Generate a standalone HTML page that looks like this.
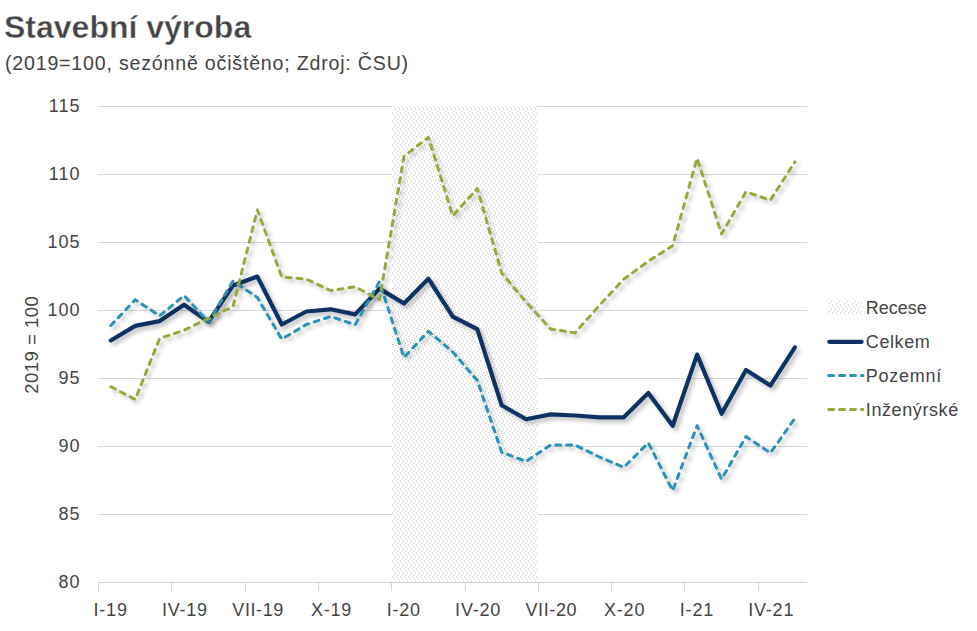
<!DOCTYPE html>
<html><head><meta charset="utf-8"><title>Stavební výroba</title>
<style>
html,body{margin:0;padding:0;background:#fff;}
body{width:977px;height:631px;overflow:hidden;font-family:"Liberation Sans",sans-serif;}
svg{display:block;}
text{font-family:"Liberation Sans",sans-serif;fill:#444444;}
</style></head><body>
<svg width="977" height="631" viewBox="0 0 977 631">
<defs>
<pattern id="dots" x="392" y="106" width="8" height="8" patternUnits="userSpaceOnUse">
<rect width="8" height="8" fill="#fff"/><rect x="1" y="0" width="1" height="1" fill="#cacaca"/><rect x="6" y="1" width="1" height="1" fill="#cacaca"/><rect x="3" y="2" width="1" height="1" fill="#cacaca"/><rect x="7" y="3" width="1" height="1" fill="#cacaca"/><rect x="2" y="4" width="1" height="1" fill="#cacaca"/><rect x="5" y="5" width="1" height="1" fill="#cacaca"/><rect x="0" y="6" width="1" height="1" fill="#cacaca"/><rect x="4" y="7" width="1" height="1" fill="#cacaca"/>
</pattern>
<filter id="sh" x="-5%" y="-5%" width="110%" height="115%">
<feGaussianBlur in="SourceAlpha" stdDeviation="1.9"/>
<feOffset dx="2.7" dy="2.7" result="o"/>
<feComponentTransfer><feFuncA type="linear" slope="0.27"/></feComponentTransfer>
<feMerge><feMergeNode/><feMergeNode in="SourceGraphic"/></feMerge>
</filter>
</defs>
<rect width="977" height="631" fill="#fff"/>

<text x="4" y="37.5" font-size="32" font-weight="bold" fill="#404040" stroke="#fff" stroke-width="0.4" letter-spacing="0">Stavební výroba</text>
<text x="5" y="69.8" font-size="19.6" letter-spacing="0.8" fill="#404040">(2019=100, sezónně očištěno; Zdroj: ČSU)</text>
<rect x="98" y="106" width="709" height="1" fill="#d9d9d9"/>
<rect x="98" y="174" width="709" height="1" fill="#d9d9d9"/>
<rect x="98" y="242" width="709" height="1" fill="#d9d9d9"/>
<rect x="98" y="310" width="709" height="1" fill="#d9d9d9"/>
<rect x="98" y="378" width="709" height="1" fill="#d9d9d9"/>
<rect x="98" y="446" width="709" height="1" fill="#d9d9d9"/>
<rect x="98" y="514" width="709" height="1" fill="#d9d9d9"/>
<rect x="392" y="106" width="146" height="476" fill="url(#dots)"/>
<rect x="98" y="582" width="709" height="1" fill="#d4d4d4"/>
<rect x="98" y="582" width="1" height="9" fill="#d4d4d4"/>
<rect x="171" y="582" width="1" height="9" fill="#d4d4d4"/>
<rect x="245" y="582" width="1" height="9" fill="#d4d4d4"/>
<rect x="318" y="582" width="1" height="9" fill="#d4d4d4"/>
<rect x="391" y="582" width="1" height="9" fill="#d4d4d4"/>
<rect x="465" y="582" width="1" height="9" fill="#d4d4d4"/>
<rect x="538" y="582" width="1" height="9" fill="#d4d4d4"/>
<rect x="611" y="582" width="1" height="9" fill="#d4d4d4"/>
<rect x="684" y="582" width="1" height="9" fill="#d4d4d4"/>
<rect x="758" y="582" width="1" height="9" fill="#d4d4d4"/>
<text x="80.6" y="112.3" font-size="18" letter-spacing="1.05" text-anchor="end">115</text>
<text x="80.6" y="180.3" font-size="18" letter-spacing="1.05" text-anchor="end">110</text>
<text x="80.6" y="248.3" font-size="18" letter-spacing="1.05" text-anchor="end">105</text>
<text x="80.6" y="316.3" font-size="18" letter-spacing="1.05" text-anchor="end">100</text>
<text x="80.6" y="384.3" font-size="18" letter-spacing="1.05" text-anchor="end">95</text>
<text x="80.6" y="452.3" font-size="18" letter-spacing="1.05" text-anchor="end">90</text>
<text x="80.6" y="520.3" font-size="18" letter-spacing="1.05" text-anchor="end">85</text>
<text x="80.6" y="588.3" font-size="18" letter-spacing="1.05" text-anchor="end">80</text>
<text x="110.6" y="616" font-size="18" letter-spacing="0.8" text-anchor="middle">I-19</text>
<text x="184.9" y="616" font-size="18" letter-spacing="0.8" text-anchor="middle">IV-19</text>
<text x="258.1" y="616" font-size="18" letter-spacing="0.6" text-anchor="middle">VII-19</text>
<text x="331.5" y="616" font-size="18" letter-spacing="0.8" text-anchor="middle">X-19</text>
<text x="403.8" y="616" font-size="18" letter-spacing="0.8" text-anchor="middle">I-20</text>
<text x="478.1" y="616" font-size="18" letter-spacing="0.8" text-anchor="middle">IV-20</text>
<text x="551.3" y="616" font-size="18" letter-spacing="0.6" text-anchor="middle">VII-20</text>
<text x="624.6" y="616" font-size="18" letter-spacing="0.8" text-anchor="middle">X-20</text>
<text x="696.9" y="616" font-size="18" letter-spacing="0.8" text-anchor="middle">I-21</text>
<text x="771.2" y="616" font-size="18" letter-spacing="0.8" text-anchor="middle">IV-21</text>
<text transform="translate(37.7,344.8) rotate(-90)" font-size="18.5" text-anchor="middle" letter-spacing="0.5">2019 = 100</text>
<g filter="url(#sh)"><polyline points="110.8,340.5 135.2,325.9 159.7,321.1 184.1,304.8 208.5,321.9 233.0,285.4 257.4,276.6 281.8,324.5 306.3,311.5 330.7,309.3 355.1,314.4 379.5,288.6 404.0,303.5 428.4,278.7 452.8,316.6 477.3,329.2 501.7,405.3 526.1,419.2 550.6,414.4 575.0,415.5 599.4,417.3 623.8,417.3 648.3,392.9 672.7,425.7 697.1,354.6 721.6,413.7 746.0,370.0 770.4,385.6 794.9,347.4" fill="none" stroke="#0f3364" stroke-width="4.2" stroke-linecap="round" stroke-linejoin="round"/></g>
<g filter="url(#sh)"><polyline points="110.8,325.5 135.2,299.8 159.7,315.7 184.1,295.6 208.5,321.9 233.0,281.1 257.4,297.5 281.8,339.2 306.3,324.5 330.7,316.5 355.1,324.8 379.5,281.7 404.0,357.5 428.4,331.3 452.8,352.0 477.3,380.5 501.7,452.3 526.1,461.4 550.6,445.0 575.0,445.0 599.4,457.0 623.8,467.4 648.3,442.8 672.7,490.6 697.1,425.7 721.6,479.2 746.0,436.6 770.4,453.0 794.9,418.4" fill="none" stroke="#2b92b8" stroke-width="3" stroke-linecap="round" stroke-linejoin="round" stroke-dasharray="5 5.9"/></g>
<g filter="url(#sh)"><polyline points="110.8,386.7 135.2,399.5 159.7,338.3 184.1,330.3 208.5,318.2 233.0,306.6 257.4,210.0 281.8,277.0 306.3,279.2 330.7,290.5 355.1,286.9 379.5,299.6 404.0,156.3 428.4,137.3 452.8,215.8 477.3,188.5 501.7,273.0 526.1,302.0 550.6,329.0 575.0,332.9 599.4,305.5 623.8,279.2 648.3,261.3 672.7,245.7 697.1,158.3 721.6,234.0 746.0,191.8 770.4,200.2 794.9,161.9" fill="none" stroke="#93ab3b" stroke-width="3" stroke-linecap="round" stroke-linejoin="round" stroke-dasharray="5 5.9"/></g>
<rect x="828" y="301" width="35" height="13" fill="url(#dots)"/>
<line x1="829.3" y1="341.8" x2="861.6" y2="341.8" stroke="#0f3364" stroke-width="4.2" stroke-linecap="round"/>
<line x1="828.7" y1="375.6" x2="863" y2="375.6" stroke="#2b92b8" stroke-width="3" stroke-linecap="round" stroke-dasharray="5 5.9"/>
<line x1="828.7" y1="409.4" x2="863" y2="409.4" stroke="#93ab3b" stroke-width="3" stroke-linecap="round" stroke-dasharray="5 5.9"/>
<text x="865.8" y="314.2" font-size="18" letter-spacing="0">Recese</text>
<text x="865.8" y="348.1" font-size="18" letter-spacing="0.6">Celkem</text>
<text x="865.8" y="382" font-size="18" letter-spacing="0.75">Pozemní</text>
<text x="865.8" y="416" font-size="18" letter-spacing="0.6">Inženýrské</text>
</svg></body></html>
